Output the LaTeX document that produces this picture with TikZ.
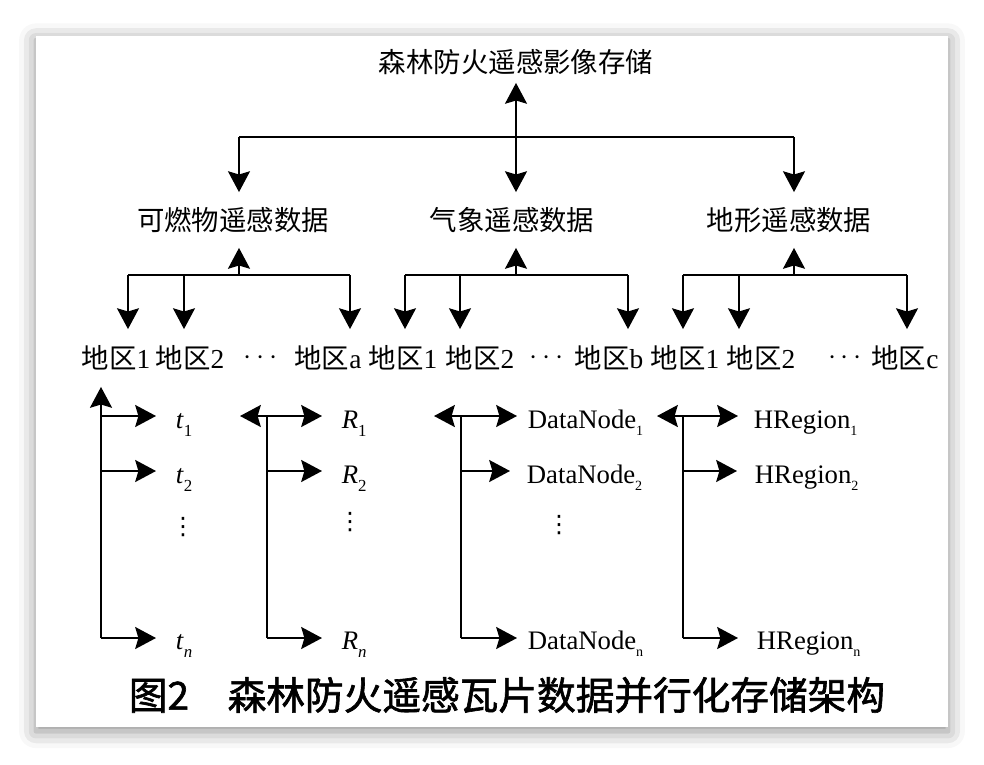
\documentclass[tikz,border=0pt]{standalone}
\usepackage{fontspec}
\setmainfont{Liberation Serif}
\newfontfamily\cjk{Noto Sans CJK SC}
\newfontfamily\cjkcap{Noto Sans CJK SC}[FakeBold=1.6]
\newfontfamily\symfont{DejaVu Sans}
\usetikzlibrary{positioning,calc}
\usetikzlibrary{arrows.meta,shadows.blur}
\newcommand{\sbi}[1]{\raisebox{-6pt}{\fontsize{12}{12}\selectfont #1}}
\newcommand{\sbr}[1]{\raisebox{-5pt}{\fontsize{10}{10}\selectfont #1}}
\tikzset{
  >={Stealth[length=5.2mm,width=5.5mm,inset=0.8mm,fill=black]},
  head/.style={inner sep=0pt,minimum height=1cm,font=\cjk\fontsize{19.5}{20}\selectfont},
  cat/.style={inner sep=0pt,minimum height=1.35cm,font=\cjk\fontsize{19.5}{20}\selectfont},
  reg/.style={inner sep=0pt,minimum height=1.4cm,font=\fontsize{19.5}{20}\selectfont},
  var/.style={inner sep=0pt,anchor=base west,font=\fontsize{19}{19}\selectfont},
  vd/.style={inner sep=0pt,font=\symfont\fontsize{17}{17}\selectfont},
  figcap/.style={inner sep=0pt,font=\cjkcap\fontsize{27.5}{28}\selectfont},
}

\begin{document}
\begin{tikzpicture}[x=0.025cm,y=-0.025cm,line width=1.3pt]
\useasboundingbox (0,0) rectangle (984,764);
\fill[white,blur shadow={shadow xshift=0pt,shadow yshift=-3pt,shadow blur radius=12pt,shadow opacity=45}] (36,36) rectangle (948,727);
% top levels
\node[head] (top) at (516,62) {森林防火遥感影像存储};
\node[cat] (kr) at (233,220) {可燃物遥感数据};
\node[cat] (qx) at (512,220) {气象遥感数据};
\node[cat] (dx) at (789,220) {地形遥感数据};
\coordinate (jk) at (239,137);
\coordinate (jq) at (516,137);
\coordinate (jd) at (794,137);
\draw (jk) -- (jd);
\draw[->] (jk) -- (jk |- kr.north);
\draw[->] (jd) -- (jd |- dx.north);
\draw[<->] (jq |- qx.north) -- (jq |- top.south);
% regions
\node[reg] (kr1) at (116,358) {{\cjk 地区}1};
\node[reg] (kr2) at (190,358) {{\cjk 地区}2};
\node[reg] (krd) at (261,358) {$\cdots$};
\node[reg] (kra) at (328,358) {{\cjk 地区}a};
\node[reg] (qx1) at (403,358) {{\cjk 地区}1};
\node[reg] (qx2) at (480,358) {{\cjk 地区}2};
\node[reg] (qxd) at (547,358) {$\cdots$};
\node[reg] (qxb) at (609,358) {{\cjk 地区}b};
\node[reg] (dx1) at (685,358) {{\cjk 地区}1};
\node[reg] (dx2) at (761,358) {{\cjk 地区}2};
\node[reg] (dxd) at (845,358) {$\cdots$};
\node[reg] (dxc) at (905,358) {{\cjk 地区}c};
% fuel group
\coordinate (kb) at (239,275);
\coordinate (k1) at (128,275);
\coordinate (k2) at (184,275);
\coordinate (k3) at (350,275);
\draw (k1) -- (k3);
\draw[->] (kb) -- (kb |- kr.south);
\draw[->] (k1) -- (k1 |- kr1.north);
\draw[->] (k2) -- (k2 |- kr2.north);
\draw[->] (k3) -- (k3 |- kra.north);
% weather group
\coordinate (qb) at (516,275);
\coordinate (q1) at (405,275);
\coordinate (q2) at (460,275);
\coordinate (q3) at (628,275);
\draw (q1) -- (q3);
\draw[->] (qb) -- (qb |- qx.south);
\draw[->] (q1) -- (q1 |- qx1.north);
\draw[->] (q2) -- (q2 |- qx2.north);
\draw[->] (q3) -- (q3 |- qxb.north);
% terrain group
\coordinate (db) at (794,275);
\coordinate (d1) at (683,275);
\coordinate (d2) at (739,275);
\coordinate (d3) at (907,275);
\draw (d1) -- (d3);
\draw[->] (db) -- (db |- dx.south);
\draw[->] (d1) -- (d1 |- dx1.north);
\draw[->] (d2) -- (d2 |- dx2.north);
\draw[->] (d3) -- (d3 |- dxc.north);
% time column
\coordinate (ct) at (101,638);
\coordinate (t1a) at (156,416);
\coordinate (t2a) at (156,471);
\coordinate (tna) at (156,638);
\draw[->] (ct) -- (ct |- kr1.south);
\draw[->] (ct |- t1a) -- (t1a);
\draw[->] (ct |- t2a) -- (t2a);
\draw[->] (ct) -- (tna);
\node[var] (t1) at (175,428) {\textit{t}\sbi{1}};
\node[var] (t2) at (175,483) {\textit{t}\sbi{2}};
\node[vd] (td) at (183,527) {⋮};
\node[var] (tn) at (175,649) {\textit{t}\sbi{\textit{n}}};
% row key column
\coordinate (cr) at (267,638);
\coordinate (r0) at (240,416);
\coordinate (r1a) at (322,416);
\coordinate (r2a) at (322,471);
\coordinate (rna) at (322,638);
\draw (cr) -- (cr |- r1a);
\draw[<->] (r0) -- (r1a);
\draw[->] (cr |- r2a) -- (r2a);
\draw[->] (cr) -- (rna);
\node[var] (r1) at (341,428) {\textit{R}\sbi{1}};
\node[var] (r2) at (341,483) {\textit{R}\sbi{2}};
\node[vd] (rd) at (350,522) {⋮};
\node[var] (rn) at (341,649) {\textit{R}\sbi{\textit{n}}};
% datanode column
\coordinate (cn) at (461,638);
\coordinate (n0) at (434,416);
\coordinate (n1a) at (517,416);
\coordinate (n2a) at (510,471);
\coordinate (nna) at (517,638);
\draw (cn) -- (cn |- n1a);
\draw[<->] (n0) -- (n1a);
\draw[->] (cn |- n2a) -- (n2a);
\draw[->] (cn) -- (nna);
\node[var] (n1) at (527,428) {DataNode\sbr{1}};
\node[var] (n2) at (526,483) {DataNode\sbr{2}};
\node[vd] (nd) at (559,525) {⋮};
\node[var] (nn) at (527,649) {DataNode\sbr{n}};
% hregion column
\coordinate (ch) at (683,638);
\coordinate (h0) at (657,416);
\coordinate (h1a) at (738,416);
\coordinate (h2a) at (737,471);
\coordinate (hna) at (738,638);
\draw (ch) -- (ch |- h1a);
\draw[<->] (h0) -- (h1a);
\draw[->] (ch |- h2a) -- (h2a);
\draw[->] (ch) -- (hna);
\node[var] (h1) at (753,428) {HRegion\sbr{1}};
\node[var] (h2) at (754,483) {HRegion\sbr{2}};
\node[var] (hn) at (756,649) {HRegion\sbr{n}};
% caption
\node[figcap] (cap) at (507,695) {图2\quad 森林防火遥感瓦片数据并行化存储架构};
\end{tikzpicture}
\end{document}
